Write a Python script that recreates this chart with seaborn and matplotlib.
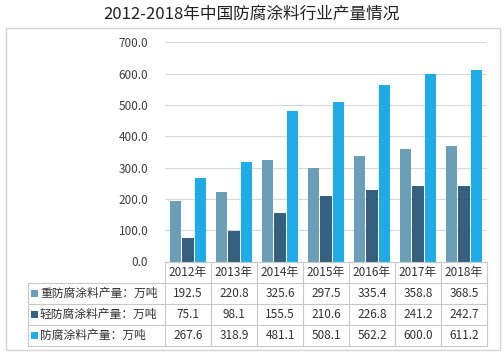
import matplotlib
matplotlib.use("Agg")
import matplotlib.pyplot as plt
import seaborn as sns
import pandas as pd
from matplotlib.patches import Rectangle
from matplotlib.lines import Line2D

years = ["2012年", "2013年", "2014年", "2015年", "2016年", "2017年", "2018年"]
series_names = ["重防腐涂料产量：万吨", "轻防腐涂料产量：万吨", "防腐涂料产量：万吨"]
heavy = [192.5, 220.8, 325.6, 297.5, 335.4, 358.8, 368.5]
light = [75.1, 98.1, 155.5, 210.6, 226.8, 241.2, 242.7]
total = [267.6, 318.9, 481.1, 508.1, 562.2, 600.0, 611.2]
yticks = [0, 100, 200, 300, 400, 500, 600, 700]
colors = ["#6b9fb8", "#35607e", "#1fabe6"]
title = "2012-2018年中国防腐涂料行业产量情况"

sns.set_theme(style="white")
plt.rcParams["font.family"] = ["Noto Sans CJK SC", "DejaVu Sans"]

W, H = 504, 357
fig = plt.figure(figsize=(W / 100, H / 100), dpi=100)

def fx(px):
    return px / W

def fy(py):
    return 1 - py / H

# outer frame
fig.add_artist(Rectangle((fx(6), fy(350)), fx(500) - fx(6), fy(28) - fy(350),
                         transform=fig.transFigure, fill=False, edgecolor="#d4d4d4", lw=1.0))

ax_l, ax_r, ax_t, ax_b = 165, 487, 42.3, 261.5
ax = fig.add_axes([fx(ax_l), fy(ax_b), fx(ax_r) - fx(ax_l), fy(ax_t) - fy(ax_b)])

df = pd.DataFrame({
    "year": years * 3,
    "series": [series_names[0]] * 7 + [series_names[1]] * 7 + [series_names[2]] * 7,
    "value": heavy + light + total,
})
sns.barplot(data=df, x="year", y="value", hue="series", palette=colors, ax=ax,
            width=0.8, gap=0.08, legend=False, saturation=1.0, edgecolor="none")

ax.set_ylim(0, 700)
ax.set_xlim(-0.5, len(years) - 0.5)
ax.set_yticks(yticks)
ax.set_yticklabels([f"{v:.1f}" for v in yticks], fontsize=8.5, color="#404040")
ax.tick_params(axis="y", length=0, pad=12)
ax.set_xticks([])
ax.set_xlabel("")
ax.set_ylabel("")
ax.yaxis.grid(True, color="#d9d9d9", lw=0.8)
ax.set_axisbelow(True)
for s in ax.spines.values():
    s.set_visible(False)

fig.text(0.5, fy(14), title, ha="center", va="center", fontsize=12, color="#222222")

# data table
line_c = "#c8c8c8"
col_w = (ax_r - ax_l) / len(years)
rows_y = [262, 283, 304, 325, 346]
lab_left = 28

def hline(x0, x1, y):
    fig.add_artist(Line2D([fx(x0), fx(x1)], [fy(y), fy(y)], transform=fig.transFigure,
                          color=line_c, lw=0.8))

def vline(x, y0, y1):
    fig.add_artist(Line2D([fx(x), fx(x)], [fy(y0), fy(y1)], transform=fig.transFigure,
                          color=line_c, lw=0.8))

hline(ax_l, ax_r, rows_y[0])
for y in rows_y[1:]:
    hline(lab_left, ax_r, y)
for k in range(len(years) + 1):
    vline(ax_l + k * col_w, rows_y[0], rows_y[-1])
vline(lab_left, rows_y[1], rows_y[-1])

for k, yr in enumerate(years):
    cx = ax_l + (k + 0.5) * col_w
    fig.text(fx(cx), fy((rows_y[0] + rows_y[1]) / 2), yr, ha="center", va="center",
             fontsize=8.5, color="#333333")

for r, (name, vals) in enumerate(zip(series_names, [heavy, light, total])):
    cy = (rows_y[r + 1] + rows_y[r + 2]) / 2
    fig.add_artist(Rectangle((fx(31), fy(cy + 3.5)), fx(7), fy(cy - 3.5) - fy(cy + 3.5),
                             transform=fig.transFigure, facecolor=colors[r], edgecolor="none"))
    fig.text(fx(40), fy(cy), name, ha="left", va="center", fontsize=8.5, color="#333333")
    for k, v in enumerate(vals):
        cx = ax_l + (k + 0.5) * col_w
        fig.text(fx(cx), fy(cy), f"{v:.1f}", ha="center", va="center",
                 fontsize=8.5, color="#333333")

fig.savefig("out.png", dpi=100)
